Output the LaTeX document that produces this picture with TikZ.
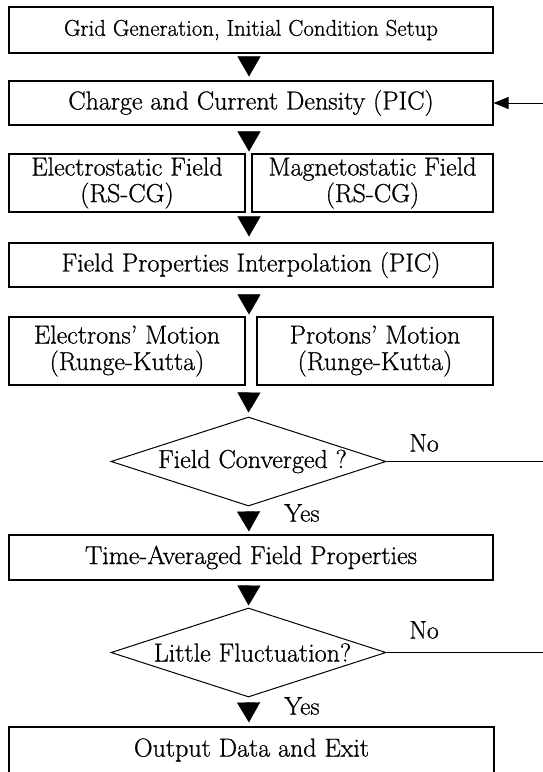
\documentclass[tikz,border=0pt]{standalone}
\usepackage{fontspec}
\setmainfont{Latin Modern Roman}[FakeBold=0.8]
\usetikzlibrary{arrows.meta,shapes.geometric}
\begin{document}
\begin{tikzpicture}[x=1pt,y=-1pt,
  box/.style={draw, line width=1.1pt, rectangle, inner sep=0pt, align=center,
    font=\fontsize{26}{26.5}\selectfont},
  dia/.style={draw, line width=1pt, diamond, aspect=3.09, minimum width=275pt,
    minimum height=89pt, inner sep=0pt, font=\fontsize{26}{26}\selectfont},
  lab/.style={inner sep=0pt, font=\fontsize{25.5}{26}\selectfont},
  flow/.style={-{Triangle[length=20pt,width=23pt]}, line width=0.4pt},
  fb/.style={-{Triangle[length=15pt,width=12pt]}, line width=1pt}]
\useasboundingbox (0,0) rectangle (543,772);
\clip (0,0) rectangle (543,772);
\coordinate (col) at (249,0);
\coordinate (redge) at (543,0);
% boxes
\node[box, font=\fontsize{22.8}{24}\selectfont, minimum width=484pt, minimum height=46pt] (b1) at (251,30) {Grid Generation, Initial Condition Setup};
\node[box, minimum width=484pt, minimum height=44pt] (b2) at (251,103) {Charge and Current Density (PIC)};
\node[box, minimum width=236pt, minimum height=58pt] (b3a) at (127,183) {Electrostatic Field\\(RS-CG)};
\node[box, minimum width=241pt, minimum height=58pt] (b3b) at (372.5,183) {Magnetostatic Field\\(RS-CG)};
\node[box, minimum width=484pt, minimum height=44pt] (b4) at (251,265) {Field Properties Interpolation (PIC)};
\node[box, minimum width=236pt, minimum height=68pt] (b5a) at (127,351) {Electrons’ Motion\\(Runge-Kutta)};
\node[box, minimum width=236pt, minimum height=68pt] (b5b) at (375,351) {Protons’ Motion\\(Runge-Kutta)};
\node[dia] (d1) at (248.5,461.5) {\hspace{8pt}Field Converged ?};
\node[box, minimum width=484pt, minimum height=45pt] (b6) at (251,557.5) {Time-Averaged Field Properties};
\node[dia] (d2) at (248.5,652.5) {\hspace{8pt}Little Fluctuation?};
\node[box, minimum width=485pt, minimum height=46pt] (b7) at (251.5,750) {Output Data and Exit};
% labels
\node[lab] (no1) at (424,443) {No};
\node[lab] (yes1) at (302,513) {Yes};
\node[lab] (no2) at (424,630) {No};
\node[lab] (yes2) at (302,706) {Yes};
% flow arrows
\draw[flow, shorten <=4pt, shorten >=4pt] (b1.south -| col) -- (b2.north -| col);
\draw[flow, shorten <=7pt, shorten >=2pt] (b2.south -| col) -- (b3a.north -| col);
\draw[flow, shorten <=5pt, shorten >=6pt] (b3a.south -| col) -- (b4.north -| col);
\draw[flow, shorten <=8pt, shorten >=2pt] (b4.south -| col) -- (b5a.north -| col);
\draw[flow, shorten <=8pt, shorten >=4pt] (b5a.south -| col) -- (d1.north);
\draw[flow, shorten <=6pt, shorten >=3pt] (d1.south) -- (b6.north -| col);
\draw[flow, shorten <=6pt, shorten >=2pt] (b6.south -| col) -- (d2.north);
\draw[flow, shorten <=6pt, shorten >=4pt] (d2.south) -- (b7.north -| col);
% loop-back lines
\draw[line width=1pt] (d1.east) -- (d1.east -| redge);
\draw[line width=1pt] (d2.east) -- (d2.east -| redge);
\draw[fb] (b2.east -| redge) -- (b2.east);
\end{tikzpicture}
\end{document}
